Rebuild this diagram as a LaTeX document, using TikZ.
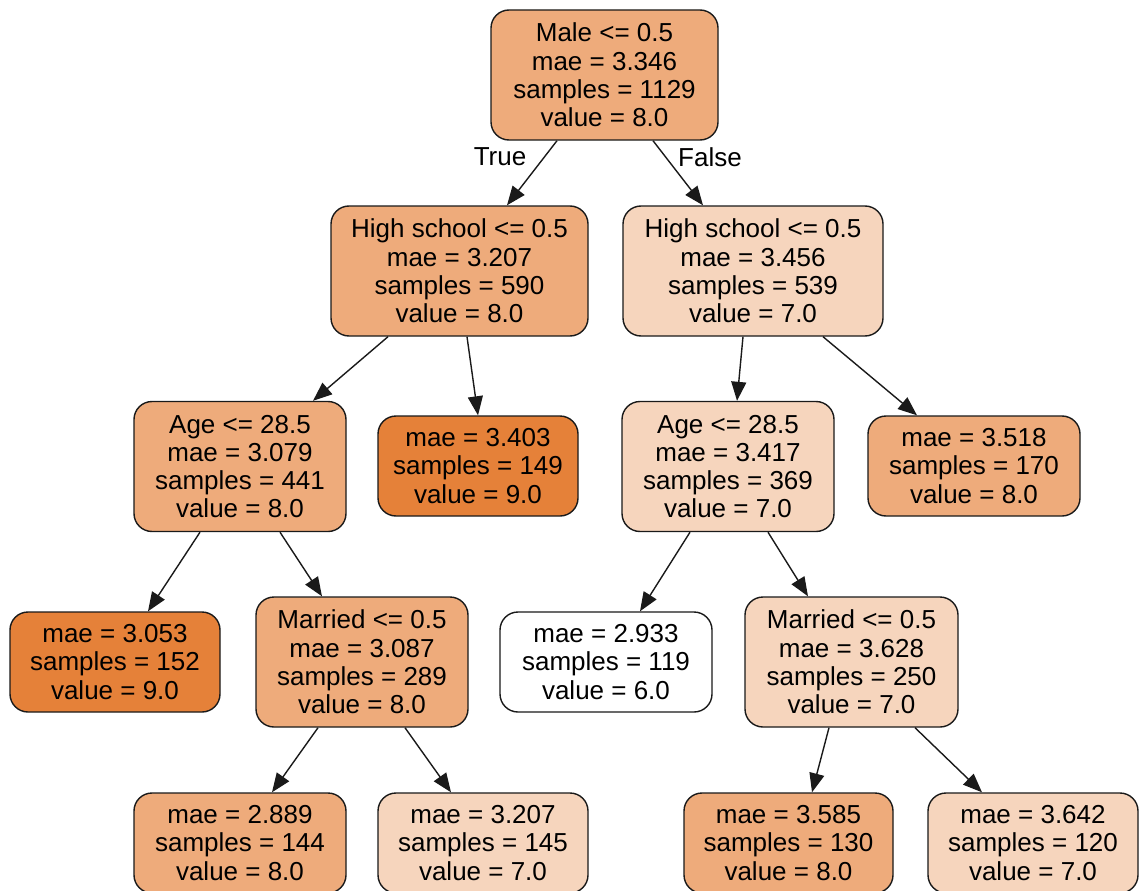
\documentclass[tikz,border=0pt]{standalone}
\usepackage{fontspec}
\setmainfont{Liberation Sans}
\usetikzlibrary{arrows.meta}
\definecolor{val9}{HTML}{E58139}
\definecolor{val8}{HTML}{EEAB7B}
\definecolor{val7}{HTML}{F6D5BD}
\definecolor{val6}{HTML}{FFFFFF}
\definecolor{edgeblk}{HTML}{1A1A1A}
\tikzset{
  tnode/.style={draw=edgeblk, line width=1.4pt, rounded corners=18pt,
    align=center, inner sep=0pt, font=\fontsize{26}{28.3}\selectfont},
  split/.style={tnode, minimum height=130pt},
  leaf/.style={tnode, minimum height=100pt},
  link/.style={draw=edgeblk, line width=1.4pt,
    -{Triangle[length=19pt,width=15pt]}},
  elabel/.style={font=\fontsize{26}{28.3}\selectfont}
}
\begin{document}
\begin{tikzpicture}[x=1pt,y=-1pt]
\clip (0,0) rectangle (1144,891);
\fill[white] (0,0) rectangle (1144,891);

% level 0
\node[split, fill=val8, minimum width=227pt] (root) at (604.5,75)
  {Male <= 0.5\\mae = 3.346\\samples = 1129\\value = 8.0};
% level 1
\node[split, fill=val8, minimum width=257pt] (hsl) at (459.5,271)
  {High school <= 0.5\\mae = 3.207\\samples = 590\\value = 8.0};
\node[split, fill=val7, minimum width=260pt] (hsr) at (753,271)
  {High school <= 0.5\\mae = 3.456\\samples = 539\\value = 7.0};
% level 2
\node[split, fill=val8, minimum width=212pt] (agel) at (240,466.5)
  {Age <= 28.5\\mae = 3.079\\samples = 441\\value = 8.0};
\node[leaf, fill=val9, minimum width=200pt] (l3403) at (478,466)
  {mae = 3.403\\samples = 149\\value = 9.0};
\node[split, fill=val7, minimum width=212pt] (ager) at (728,466.5)
  {Age <= 28.5\\mae = 3.417\\samples = 369\\value = 7.0};
\node[leaf, fill=val8, minimum width=212pt] (l3518) at (974,466)
  {mae = 3.518\\samples = 170\\value = 8.0};
% level 3
\node[leaf, fill=val9, minimum width=210pt] (l3053) at (115,662)
  {mae = 3.053\\samples = 152\\value = 9.0};
\node[split, fill=val8, minimum width=212pt] (marl) at (362,662)
  {Married <= 0.5\\mae = 3.087\\samples = 289\\value = 8.0};
\node[leaf, fill=val6, minimum width=212pt] (l2933) at (606,662)
  {mae = 2.933\\samples = 119\\value = 6.0};
\node[split, fill=val7, minimum width=213pt] (marr) at (851.5,662)
  {Married <= 0.5\\mae = 3.628\\samples = 250\\value = 7.0};
% level 4
\node[leaf, fill=val8, minimum width=212pt] (l2889) at (240,843)
  {mae = 2.889\\samples = 144\\value = 8.0};
\node[leaf, fill=val7, minimum width=210pt] (l3207) at (483,843)
  {mae = 3.207\\samples = 145\\value = 7.0};
\node[leaf, fill=val8, minimum width=209pt] (l3585) at (788.5,843)
  {mae = 3.585\\samples = 130\\value = 8.0};
\node[leaf, fill=val7, minimum width=210pt] (l3642) at (1033,843)
  {mae = 3.642\\samples = 120\\value = 7.0};

% connectors
\draw[link] ([xshift=-47.5pt]root.south) -- ([xshift=47.5pt]hsl.north);
\draw[link] ([xshift=48.5pt]root.south) -- ([xshift=-50pt]hsr.north);
\draw[link] ([xshift=-71.5pt]hsl.south) -- ([xshift=73pt]agel.north);
\draw[link] ([xshift=7.5pt]hsl.south) -- (l3403.north);
\draw[link] ([xshift=-10pt]hsr.south) -- ([xshift=9pt]ager.north);
\draw[link] ([xshift=70pt]hsr.south) -- ([xshift=-57pt]l3518.north);
\draw[link] ([xshift=-40pt]agel.south) -- ([xshift=33pt]l3053.north);
\draw[link] ([xshift=40pt]agel.south) -- ([xshift=-40pt]marl.north);
\draw[link] ([xshift=-38pt]ager.south) -- ([xshift=34pt]l2933.north);
\draw[link] ([xshift=40pt]ager.south) -- ([xshift=-43.5pt]marr.north);
\draw[link] ([xshift=-44pt]marl.south) -- ([xshift=32pt]l2889.north);
\draw[link] ([xshift=43pt]marl.south) -- ([xshift=-32pt]l3207.north);
\draw[link] ([xshift=-22.5pt]marr.south) -- ([xshift=23.5pt]l3585.north);
\draw[link] ([xshift=63.5pt]marr.south) -- ([xshift=-51pt]l3642.north);

% branch labels
\node[elabel] (tlabel) at (500,157) {True};
\node[elabel] (flabel) at (710,157) {False};
\end{tikzpicture}
\end{document}
